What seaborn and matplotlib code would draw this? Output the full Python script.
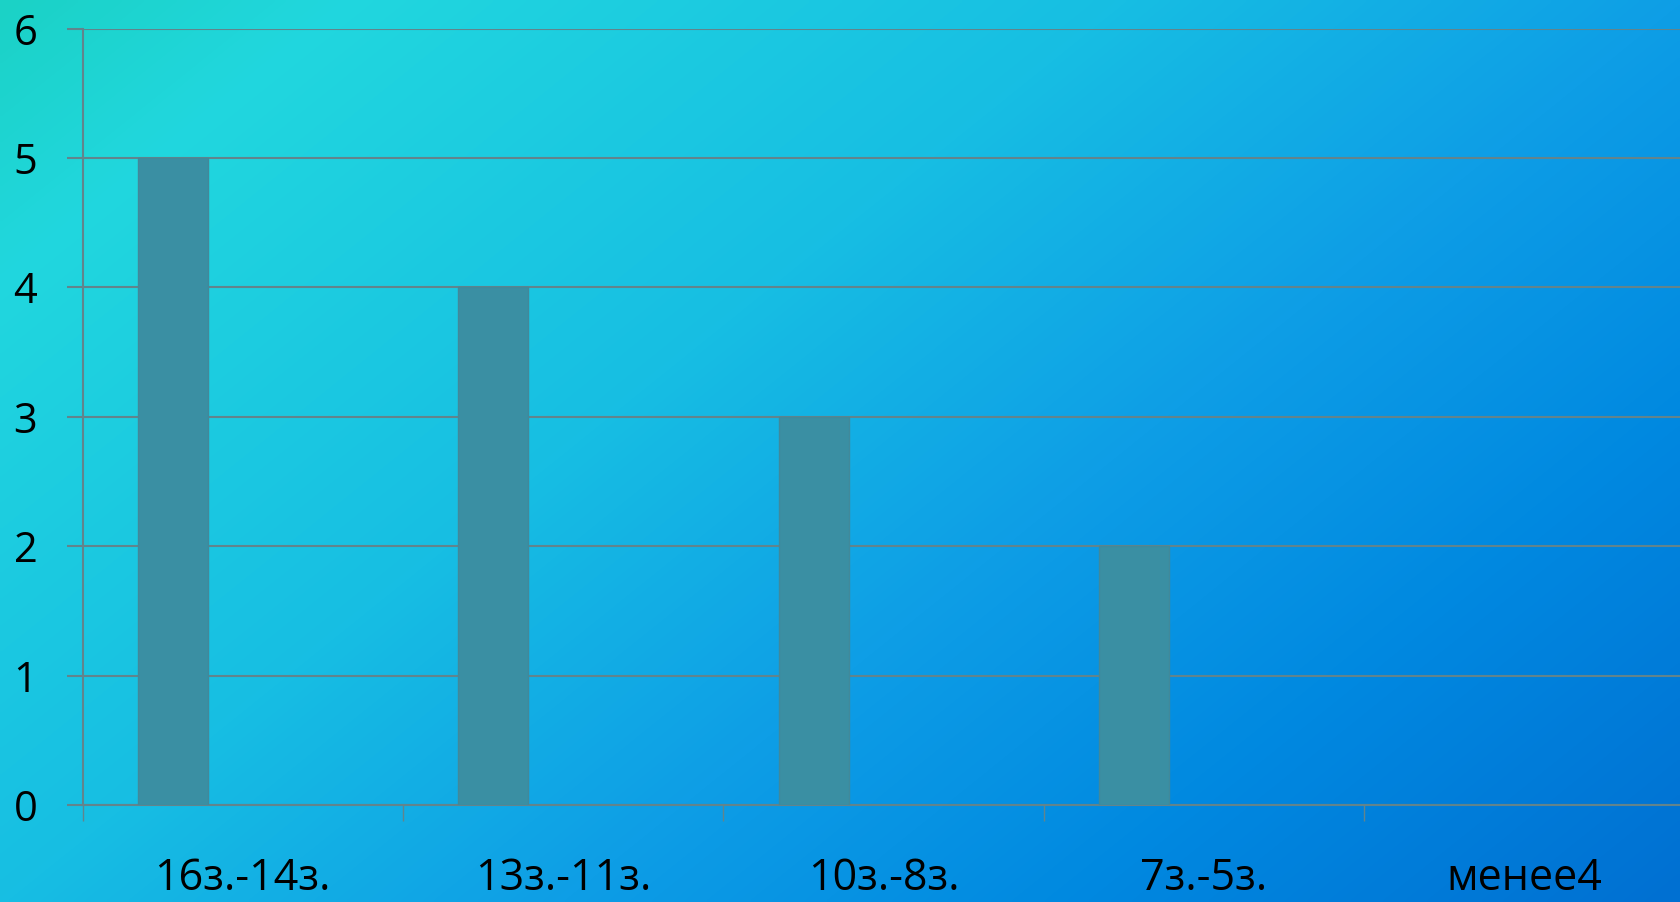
import numpy as np
import pandas as pd
import matplotlib
matplotlib.use("Agg")
import matplotlib.pyplot as plt
from matplotlib.colors import LinearSegmentedColormap
from matplotlib.ticker import FixedLocator
import seaborn as sns

# Score ranges and how many results fell into each
categories = ["16з.-14з.", "13з.-11з.", "10з.-8з.", "7з.-5з.", "менее4"]
counts = [5, 4, 3, 2, 0]
series_names = ["Ряд 1", "Ряд 2", "Ряд 3"]
y_ticks = [0, 1, 2, 3, 4, 5, 6]

df = pd.DataFrame({
    "интервал": categories,
    "ряд": [series_names[0]] * len(categories),
    "количество": counts,
})

sns.set_theme(style="white")
plt.rcParams["font.family"] = ["Open Sans", "DejaVu Sans"]

W, H, DPI = 1680, 902, 100
fig = plt.figure(figsize=(W / DPI, H / DPI), dpi=DPI)

# Diagonal cyan-to-blue background gradient
bg = fig.add_axes([0, 0, 1, 1], zorder=0)
bg.set_axis_off()
xx, yy = np.meshgrid(np.linspace(0, 1, 420), np.linspace(0, 1, 226))
u = 0.6 * xx + 0.4 * yy
grad = LinearSegmentedColormap.from_list(
    "bg",
    [(0.0, "#1bd2c6"), (0.12, "#21d7de"), (0.4, "#17bee3"),
     (0.6, "#0e9ee6"), (0.79, "#0088e0"), (1.0, "#0070d2")],
)
bg.imshow(u, cmap=grad, aspect="auto", extent=[0, 1, 0, 1],
          origin="upper", interpolation="bilinear", vmin=0, vmax=1)
bg.set_xlim(0, 1)
bg.set_ylim(0, 1)

line_col = "#62848c"
bar_col = "#3a8fa3"
ax = fig.add_axes([82.5 / W, 1 - 805 / H, 1602 / W, (805 - 28.7) / H], zorder=1)
ax.patch.set_alpha(0)

sns.barplot(
    data=df, x="интервал", y="количество", hue="ряд",
    hue_order=series_names,
    palette={name: bar_col for name in series_names},
    saturation=1, width=0.655, dodge=True, legend=False, ax=ax,
    edgecolor="#41899a", linewidth=1.0, zorder=3,
)

ax.set_xlim(-0.5, len(categories) - 0.5)
ax.set_ylim(0, 6)
ax.set_xlabel("")
ax.set_ylabel("")

ax.set_yticks(y_ticks)
ax.set_yticklabels([str(t) for t in y_ticks])
ax.yaxis.grid(True, color=line_col, linewidth=1.5)
ax.xaxis.grid(False)
ax.set_axisbelow(True)

ax.xaxis.set_minor_locator(FixedLocator(np.arange(-0.5, len(categories), 1.0)))
ax.tick_params(axis="x", which="major", length=0, pad=37, labelsize=31,
               labelcolor="black")
ax.tick_params(axis="x", which="minor", length=11.5, width=1.0,
               color=line_col, direction="out", bottom=True)
ax.tick_params(axis="y", which="major", length=11.5, width=1.5,
               color=line_col, direction="out", left=True, pad=21,
               labelsize=30, labelcolor="black")

for side in ("top", "right"):
    ax.spines[side].set_visible(False)
ax.spines["left"].set_color(line_col)
ax.spines["left"].set_linewidth(1.5)
ax.spines["bottom"].set_color(line_col)
ax.spines["bottom"].set_linewidth(1.5)

fig.savefig("out.png", dpi=DPI)
